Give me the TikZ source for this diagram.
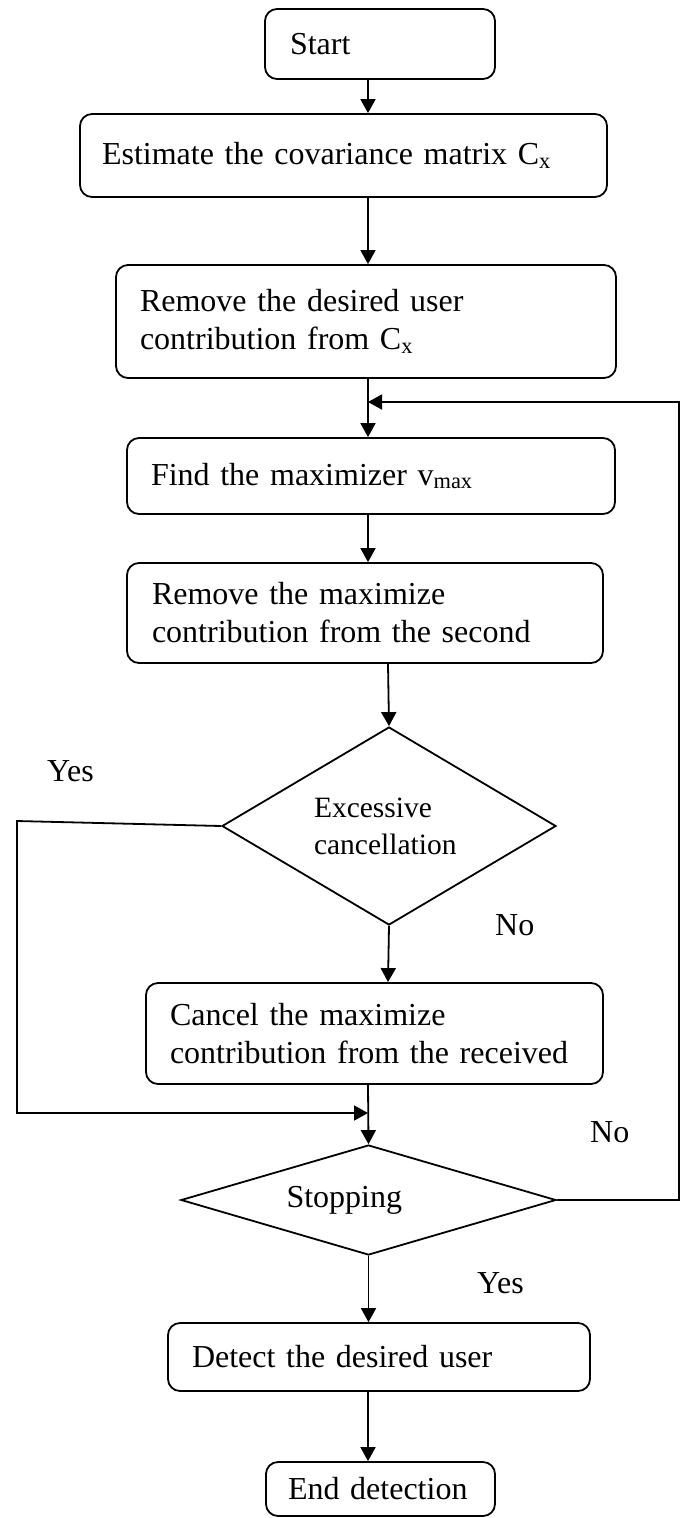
\documentclass[tikz,border=0pt]{standalone}
\usepackage{fontspec}
\setmainfont{Liberation Serif}
\usetikzlibrary{shapes.geometric,arrows.meta}
\begin{document}
\begin{tikzpicture}[x=1pt,y=-1pt,
  every node/.style={font=\fontsize{32}{38}\selectfont},
  ln/.style={line width=1.8pt},
  arr/.style={ln,-{Triangle[length=14pt,width=15pt]}},
  box/.style={draw,ln,rounded corners=12pt,align=left,inner ysep=0pt},
  dec/.style={draw,ln,diamond,inner sep=0pt,align=left},
  lbl/.style={anchor=base west,inner sep=0pt}]
\useasboundingbox (0,0) rectangle (684,1518);

\node[box, minimum width=230pt, minimum height=70pt, inner xsep=25pt, text width=180pt] (start) at (380,44) {Start};
\node[box, minimum width=527pt, minimum height=83pt, inner xsep=22pt, text width=483pt] (est) at (343.5,155.5) {Estimate the covariance matrix C\textsubscript{x}};
\node[box, minimum width=500pt, minimum height=113pt, inner xsep=24pt, text width=452pt] (rem1) at (366,321.5) {Remove the desired user\\contribution from C\textsubscript{x}};
\node[box, minimum width=488pt, minimum height=76pt, inner xsep=24pt, text width=440pt] (find) at (371,476) {Find the maximizer v\textsubscript{max}};
\node[box, minimum width=476pt, minimum height=100pt, inner xsep=25pt, text width=426pt] (rem2) at (365,613) {Remove the maximize\\contribution from the second};
\node[dec, aspect=1.687, minimum width=334pt, minimum height=198pt, text width=150pt, font=\fontsize{29.5}{37}\selectfont] (d1) at (389,826) {Excessive\\cancellation};
\node[box, minimum width=457pt, minimum height=101pt, inner xsep=24pt, text width=409pt] (canc) at (374.5,1033.5) {Cancel the maximize\\contribution from the received};
\node[dec, aspect=3.4, minimum width=375pt, minimum height=110pt, text width=164pt] (d2) at (368.5,1200) {Stopping};
\node[box, minimum width=422pt, minimum height=68pt, inner xsep=24pt, text width=374pt] (det) at (379,1357) {Detect the desired user};
\node[box, minimum width=229pt, minimum height=54pt, inner xsep=22pt, text width=185pt] (end) at (380.5,1489) {End detection};

\node[lbl] (yes1) at (47,781) {Yes};
\node[lbl] (no1) at (495,935) {No};
\node[lbl] (no2) at (590,1142) {No};
\node[lbl] (yes2) at (477,1293) {Yes};

\coordinate (ax) at (368,0);
\coordinate (bx) at (388,0);
\coordinate (fj) at (368,402);
\coordinate (fr) at (679,402);
\coordinate (ylt) at (17,821);
\coordinate (yj) at (368,1113);

\draw[arr] (start.south -| ax) -- (est.north -| ax);
\draw[arr] (est.south -| ax) -- (rem1.north -| ax);
\draw[arr] (rem1.south -| ax) -- (find.north -| ax);
\draw[arr] (find.south -| ax) -- (rem2.north -| ax);
\draw[arr] (rem2.south -| bx) -- (d1.north);
\draw[arr] (d1.south) -- (canc.north -| bx);
\draw[arr] (canc.south -| ax) -- (d2.north);
\draw[arr] (d2.south) -- (det.north -| d2.south);
\draw[arr] (det.south -| ax) -- (end.north -| ax);

\draw[arr] (d1.west) -- (ylt) -- (ylt |- yj) -- (yj);
\draw[arr] (d2.east) -- (fr |- d2.east) -- (fr) -- (fj);
\end{tikzpicture}
\end{document}
